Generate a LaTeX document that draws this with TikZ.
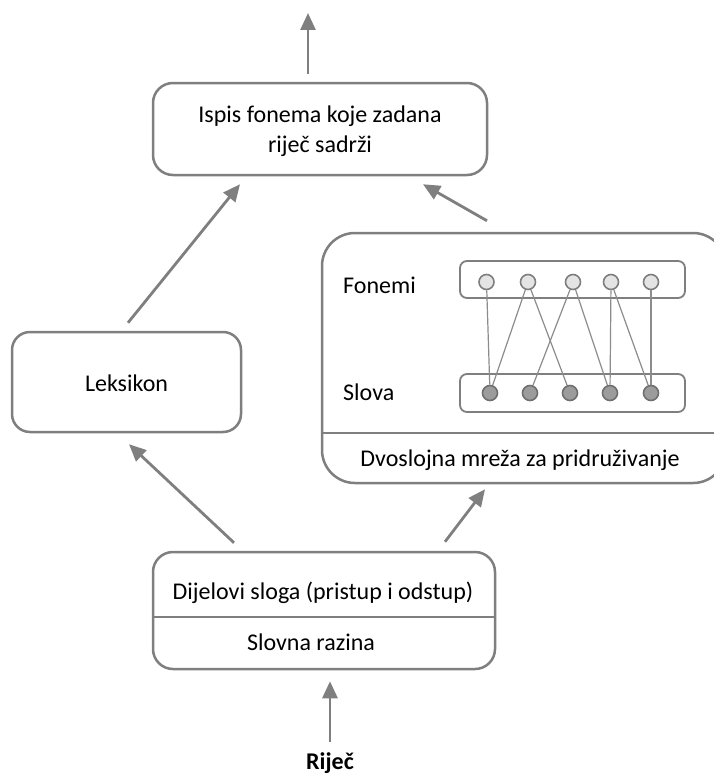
\documentclass[tikz,border=0pt]{standalone}
\usepackage{fontspec}
\setmainfont{Carlito}
\usetikzlibrary{arrows.meta,calc}
\definecolor{edge}{HTML}{7F7F7F}
\definecolor{lightnode}{HTML}{E4E4E4}
\definecolor{darknode}{HTML}{9C9C9C}
\definecolor{darkedge}{HTML}{707070}
\begin{document}
\begin{tikzpicture}[x=1pt,y=-1pt,
  box/.style={draw=edge,line width=2.5pt,fill=white,inner sep=0pt,align=center},
  inbox/.style={draw=edge,line width=1.8pt,rounded corners=7pt,inner sep=0pt},
  lbl/.style={font=\fontsize{24}{30}\selectfont,inner sep=0pt},
  arr/.style={draw=edge,line width=2.8pt,-{Triangle[length=17pt,width=15pt]}},
  fon/.style={circle,draw=edge,fill=lightnode,line width=1.6pt,minimum size=15pt,inner sep=0pt},
  slo/.style={circle,draw=darkedge,fill=darknode,line width=1.6pt,minimum size=15pt,inner sep=0pt},
  link/.style={draw=edge!90,line width=1.2pt}]
\useasboundingbox (0,0) rectangle (714,776);
\begin{scope}
\clip (0,0) rectangle (714,776);
% boxes
\node[box,rounded corners=20pt,minimum width=334pt,minimum height=92pt] (top) at (320,129) {};
\node[lbl,align=center] (toptext) at (320,131) {Ispis fonema koje zadana\\rije\v{c} sadr\v{z}i};
\node[box,rounded corners=18pt,minimum width=229pt,minimum height=100pt] (lex) at (126.5,382) {};
\node[lbl] (lextext) at (126.5,383) {Leksikon};
\node[box,rounded corners=33pt,minimum width=404pt,minimum height=250pt] (net) at (524,358) {};
\draw[draw=edge,line width=2.5pt] (net.west |- 0,433) coordinate (ndl) -- (net.east |- 0,433) coordinate (ndr);
\node[lbl] (nettext) at (520,460) {Dvoslojna mre\v{z}a za pridru\v{z}ivanje};
\node[lbl,anchor=west] (fonlbl) at (343,285) {Fonemi};
\node[lbl,anchor=west] (slolbl) at (343,392) {Slova};
\node[inbox,minimum width=225pt,minimum height=37pt] (fonbox) at (572.5,279.5) {};
\node[inbox,minimum width=225pt,minimum height=38pt] (slobox) at (572.5,393) {};
\node[fon] (f1) at (486.5,282) {};
\node[fon] (f2) at (528,282) {};
\node[fon] (f3) at (573,282) {};
\node[fon] (f4) at (611,282) {};
\node[fon] (f5) at (651,282) {};
\node[slo] (s1) at (490,393) {};
\node[slo] (s2) at (530,393) {};
\node[slo] (s3) at (570,393) {};
\node[slo] (s4) at (610,393) {};
\node[slo] (s5) at (651,393) {};
\draw[link] (f1) -- (s1);
\draw[link] (f2) -- (s1);
\draw[link] (f2) -- (s3);
\draw[link] (f3) -- (s2);
\draw[link] (f3) -- (s4);
\draw[link] (f4) -- (s4);
\draw[link] (f4) -- (s5);
\draw[link] (f5) -- (s5);
\node[box,rounded corners=20pt,minimum width=342pt,minimum height=117pt] (bot) at (324,610.5) {};
\draw[draw=edge,line width=2.5pt] (bot.west |- 0,617) -- (bot.east |- 0,617);
\node[lbl] (bottext1) at (323,593) {Dijelovi sloga (pristup i odstup)};
\node[lbl] (bottext2) at (311,642) {Slovna razina};
\node[lbl,font=\fontsize{24}{30}\selectfont\bfseries] (word) at (330,763) {Rije\v{c}};
\coordinate (out) at (308,13);
% arrows
\draw[arr] ($(top.north)+(-12,-8)$) -- (out);
\draw[arr] ($(lex.north)+(1.5,-8)$) -- ($(top.south)+(-80,8)$);
\draw[arr] ($(net.north)+(-37,-11)$) -- ($(top.south)+(103,8)$);
\draw[arr] ($(bot.north)+(-90,-8)$) -- ($(lex.south)+(2.5,11)$);
\draw[arr] ($(bot.north)+(121,-9)$) -- ($(net.south)+(-39,5)$);
\draw[arr] (word.north |- 0,742) -- ($(bot.south)+(6,11)$);
\end{scope}
\end{tikzpicture}
\end{document}
